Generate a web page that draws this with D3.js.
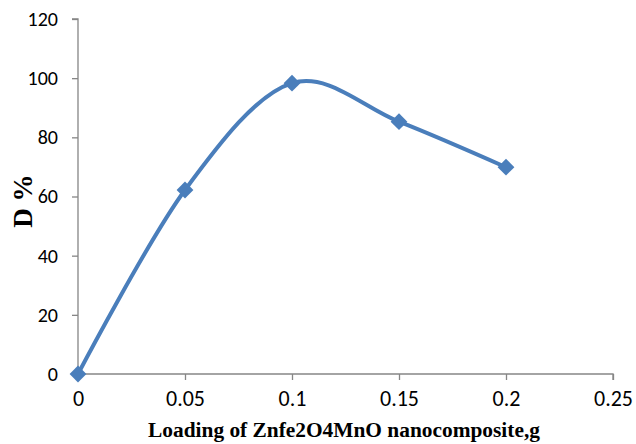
<!DOCTYPE html>
<html>
<head>
<meta charset="utf-8">
<script src="https://cdn.jsdelivr.net/npm/d3@7"></script>
<style>
  html, body { margin: 0; padding: 0; background: #fff; }
  svg { display: block; }
</style>
</head>
<body>
<script>
const loading = [0, 0.05, 0.1, 0.15, 0.2];
const dPercent = [0, 62.2, 98.3, 85.3, 69.9];
const xTicks = [0, 0.05, 0.1, 0.15, 0.2, 0.25];
const yTicks = [0, 20, 40, 60, 80, 100, 120];
const xTitle = "Loading of Znfe2O4MnO nanocomposite,g";
const yTitle = "D %";

const W = 636, H = 444;
const svg = d3.select("body").append("svg").attr("width", W).attr("height", H);

const x = d3.scaleLinear().domain([0, 0.25]).range([78, 613]);
const y = d3.scaleLinear().domain([0, 120]).range([374, 19]);

const axisColor = "#868686";
const tickFont = "Carlito, 'Open Sans', sans-serif";

// Y axis
const yAxis = svg.append("g").attr("transform", `translate(${x(0)},0)`)
  .call(d3.axisLeft(y).tickValues(yTicks).tickSize(6).tickPadding(14).tickFormat(d3.format("d")))
  .attr("font-family", tickFont).attr("font-size", 20);
yAxis.select(".domain").attr("stroke", axisColor).attr("stroke-width", 1.3).attr("d", `M-6,${y(120)}H0V${y(0)}`);
yAxis.selectAll(".tick line").attr("stroke", axisColor).attr("stroke-width", 1.3);
yAxis.selectAll(".tick text").attr("fill", "#000");

// X axis
const xAxis = svg.append("g").attr("transform", `translate(0,${y(0)})`)
  .call(d3.axisBottom(x).tickValues(xTicks).tickSize(6).tickPadding(10).tickFormat(d => d === 0 ? "0" : String(d)))
  .attr("font-family", tickFont).attr("font-size", 22);
xAxis.select(".domain").attr("stroke", axisColor).attr("stroke-width", 1.3).attr("d", `M${x(0)},0H${x(0.25)}V6`);
xAxis.selectAll(".tick line").attr("stroke", axisColor).attr("stroke-width", 1.3);
xAxis.selectAll(".tick text").attr("fill", "#000");

// Line
const data = loading.map((v, i) => [v, dPercent[i]]);
const line = d3.line().x(d => x(d[0])).y(d => y(d[1])).curve(d3.curveCardinal.tension(0));
svg.append("path").datum(data).attr("d", line)
  .attr("fill", "none").attr("stroke", "#4a7ebb").attr("stroke-width", 4).attr("stroke-linejoin", "round");

// Markers
const sym = d3.symbol().type(d3.symbolDiamond2).size(180);
svg.selectAll(".mk").data(data).enter().append("path")
  .attr("transform", d => `translate(${x(d[0])},${y(d[1])})`)
  .attr("d", sym).attr("fill", "#4a7ebb");

// Titles
const xt = svg.append("text").text(xTitle)
  .attr("x", 344).attr("y", 437).attr("text-anchor", "middle")
  .attr("font-family", "'Liberation Serif', 'Times New Roman', serif")
  .attr("font-weight", "bold").attr("font-size", 18);
const len = xt.node().getComputedTextLength();
xt.attr("font-size", (18 * 392 / len).toFixed(2));

svg.append("text").text(yTitle)
  .attr("transform", `translate(32,201) rotate(-90)`)
  .attr("text-anchor", "middle")
  .attr("font-family", "'Liberation Serif', 'Times New Roman', serif")
  .attr("font-weight", "bold").attr("font-size", 27);
</script>
</body>
</html>
